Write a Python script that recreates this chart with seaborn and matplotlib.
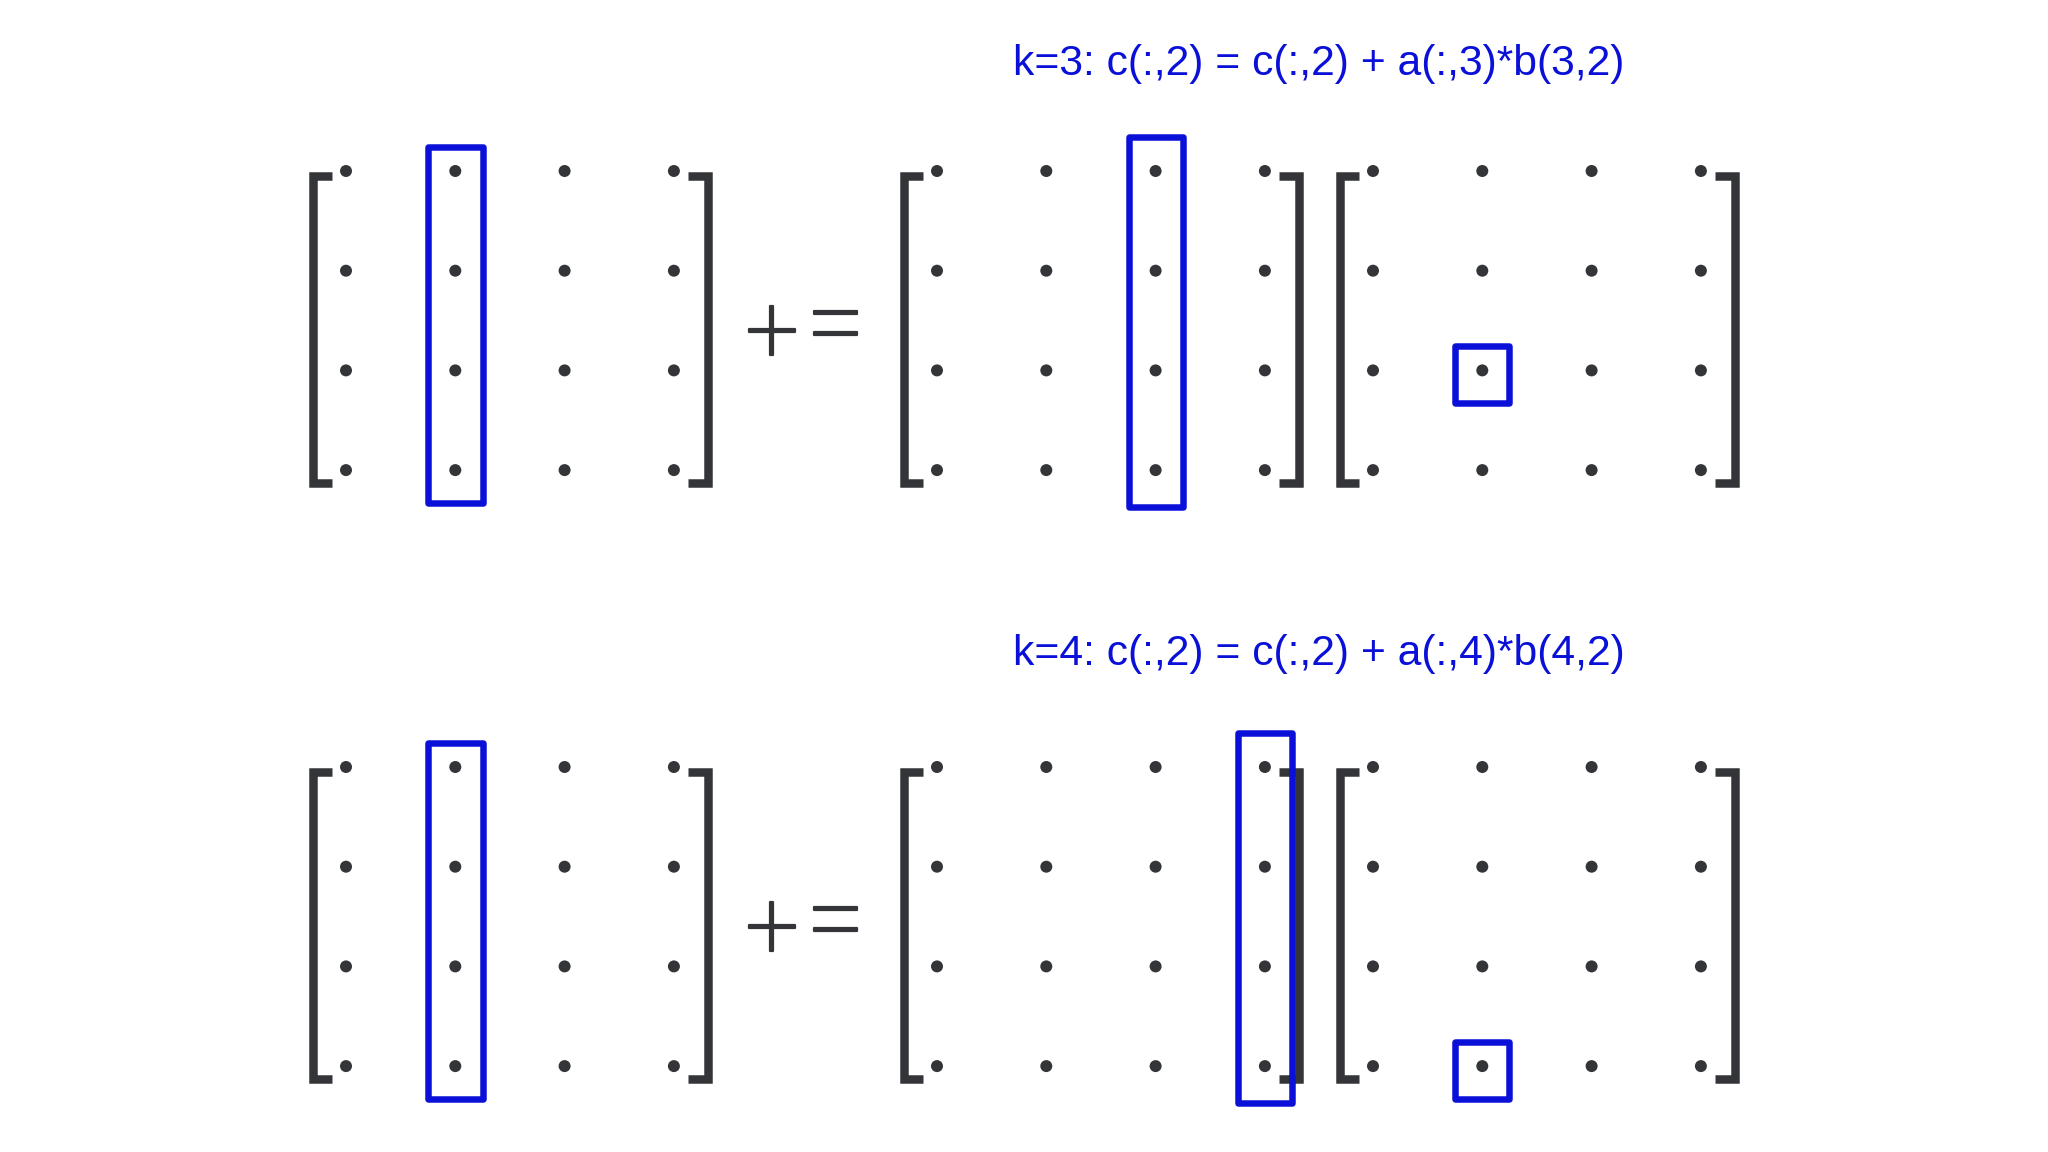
import numpy as np
import pandas as pd
import matplotlib
matplotlib.use("Agg")
import matplotlib.pyplot as plt
import matplotlib.patheffects as pe
import seaborn as sns
from matplotlib.patches import Rectangle
from matplotlib.textpath import TextPath
from matplotlib.font_manager import FontProperties

# ---------------- data ----------------
matrix_names = ["c", "a", "b"]          # c += a * b
row_idx = [1, 2, 3, 4]
col_idx = [1, 2, 3, 4]
k_steps = [3, 4]                         # one panel per k
target_col = 2                           # column j of c being updated
operator_parts = ["+", "="]

# ---------------- layout (pixels) ----------------
W, H = 2048, 1152
mat_x0 = [346, 937, 1373]                # x of first column per matrix
panel_y0 = [171, 767]                    # y of first row per panel
title_base = [75, 665]
title_x = 1013
DX, DY = 109.3, 99.7
PX = 0.72                                # px -> pt at dpi 100

GRAY = "#333538"
BLUE = "#0A10D8"

sns.set_theme(style="white")
plt.rcParams["font.family"] = ["Liberation Sans", "DejaVu Sans"]

fig = plt.figure(figsize=(W / 100, H / 100), dpi=100)
ax = fig.add_axes([0, 0, 1, 1])
ax.set_xlim(0, W)
ax.set_ylim(H, 0)
ax.axis("off")

def cx(m, c):
    return mat_x0[m] + (c - 1) * DX

def ry(p, r):
    return panel_y0[p] + (r - 1) * DY

# dots
recs = []
for p, k in enumerate(k_steps):
    for m, name in enumerate(matrix_names):
        for r in row_idx:
            for c in col_idx:
                recs.append({"x": cx(m, c), "y": ry(p, r), "panel": p, "matrix": name})
dots = pd.DataFrame(recs)
sns.scatterplot(data=dots, x="x", y="y", s=(12 * PX) ** 2, color=GRAY,
                edgecolor="none", linewidth=0, ax=ax, legend=False, zorder=3)

# brackets
blw = 8.5
for p in range(len(k_steps)):
    top = ry(p, row_idx[0]) + 5.25
    bot = ry(p, row_idx[-1]) + 12.75
    for m in range(len(matrix_names)):
        x1 = cx(m, col_idx[0])
        x4 = cx(m, col_idx[-1])
        ax.plot([x1 - 14, x1 - 33.5, x1 - 33.5, x1 - 14], [top, top, bot, bot],
                color=GRAY, lw=blw * PX, solid_joinstyle="miter",
                solid_capstyle="butt", zorder=2)
        ax.plot([x4 + 14, x4 + 34.5, x4 + 34.5, x4 + 14], [top, top, bot, bot],
                color=GRAY, lw=blw * PX, solid_joinstyle="miter",
                solid_capstyle="butt", zorder=2)

# highlight boxes
hlw = 6.5
def box(x0, x1, y0, y1):
    ax.add_patch(Rectangle((x0, y0), x1 - x0, y1 - y0, fill=False,
                           edgecolor=BLUE, lw=hlw * PX, joinstyle="round", zorder=4))

for p, k in enumerate(k_steps):
    j = target_col
    # c(:, j)
    x = cx(0, j)
    box(x - 27.5, x + 27.5, ry(p, row_idx[0]) - 24, ry(p, row_idx[-1]) + 33)
    # a(:, k)
    x = cx(1, k)
    box(x - 27, x + 27, ry(p, row_idx[0]) - 34.5, ry(p, row_idx[-1]) + 36.5)
    # b(k, j)
    x = cx(2, j)
    y = ry(p, k)
    box(x - 27, x + 27, y - 24, y + 33)
    # title
    ax.text(title_x, title_base[p],
            f"k={k}: c(:,{j}) = c(:,{j}) + a(:,{k})*b({k},{j})",
            color=BLUE, fontsize=30.7, ha="left", va="baseline",
            family=["Liberation Sans", "DejaVu Sans"])

# operator "+=" : light glyphs, slightly emboldened, sized to measured ink width
fp = FontProperties(family=["Roboto", "DejaVu Sans"], weight="light")
op_w_px = [50.0, 50.0]
op_cx = [772, 836]
op_dy = 163
for p in range(len(k_steps)):
    yc = panel_y0[p] + op_dy
    for part, xc, wpx in zip(operator_parts, op_cx, op_w_px):
        vv = TextPath((0, 0), part, size=1, prop=fp).vertices
        em_px = wpx / (vv[:, 0].max() - vv[:, 0].min())
        ym = (vv[:, 1].max() + vv[:, 1].min()) / 2
        ax.text(xc, yc + ym * em_px, part, fontproperties=fp,
                fontsize=em_px * PX, color=GRAY, ha="center", va="baseline",
                path_effects=[pe.withStroke(linewidth=2.2 * PX, foreground=GRAY)])

fig.savefig("out.png", dpi=100, facecolor="white")
